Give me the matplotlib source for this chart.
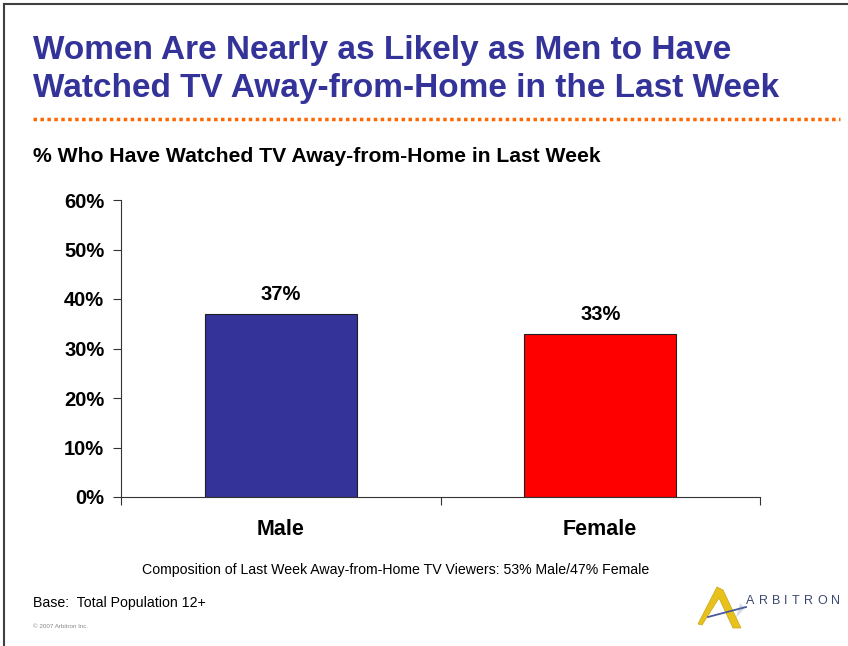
import matplotlib.pyplot as plt
from matplotlib.patches import Polygon
from matplotlib.lines import Line2D

plt.rcParams['font.family'] = ['Liberation Sans', 'DejaVu Sans']

# Data
categories = ['Male', 'Female']
values = [37, 33]
bar_colors = ['#333399', '#FF0000']
y_ticks = [0, 10, 20, 30, 40, 50, 60]

W, H = 848, 646
fig = plt.figure(figsize=(W / 100, H / 100), dpi=100)

def fx(px):
    return px / W

def fy(py):
    return 1 - py / H

# slide border (top and left)
fig.add_artist(Line2D([fx(4), fx(4)], [fy(4), 0], color='#404040', lw=1.5))
fig.add_artist(Line2D([fx(4), 1], [fy(4), fy(4)], color='#404040', lw=1.5))

# title
fig.text(fx(33), fy(51), 'Women Are Nearly as Likely as Men to Have',
         fontsize=24, fontweight='bold', color='#333399', va='center', ha='left')
fig.text(fx(33), fy(89), 'Watched TV Away-from-Home in the Last Week',
         fontsize=24, fontweight='bold', color='#333399', va='center', ha='left')
fig.add_artist(Line2D([fx(33), fx(840)], [fy(119), fy(119)], color='#FF6600',
                      lw=2.5, linestyle=(0, (1, 1))))

fig.text(fx(33), fy(157), '% Who Have Watched TV Away-from-Home in Last Week',
         fontsize=15.2, fontweight='bold', color='black', va='center', ha='left')

# chart area
ax = fig.add_axes([fx(121), fy(497), fx(760) - fx(121), fy(200) - fy(497)])
x = list(range(len(categories)))
ax.bar(x, values, width=0.475, color=bar_colors, edgecolor='#202020', linewidth=0.8)
for xi, v in zip(x, values):
    ax.text(xi, v + 2.0, f'{v}%', ha='center', va='bottom', fontsize=14.5, fontweight='bold')

ax.set_xlim(-0.5, 1.5)
ax.set_ylim(0, 60)
ax.set_yticks(y_ticks)
ax.set_yticklabels([f'{t}%' for t in y_ticks], fontsize=14.5, fontweight='bold')
ax.set_xticks([-0.5, 0.5, 1.5])
ax.set_xticklabels([])
ax.tick_params(axis='both', direction='out', length=6, width=0.8, color='#333333', pad=6)
for s in ['top', 'right']:
    ax.spines[s].set_visible(False)
for s in ['left', 'bottom']:
    ax.spines[s].set_color('#333333')
    ax.spines[s].set_linewidth(0.8)

for xi, c in zip(x, categories):
    ax.text(xi, -0.11, c, transform=ax.get_xaxis_transform(), ha='center', va='center',
            fontsize=15.5, fontweight='bold')

# footnotes
fig.text(fx(396), fy(570), 'Composition of Last Week Away-from-Home TV Viewers: 53% Male/47% Female',
         fontsize=10.2, ha='center', va='center')
fig.text(fx(33), fy(603), 'Base:  Total Population 12+', fontsize=10.2, ha='left', va='center')
fig.text(fx(33), fy(627), '\u00a9 2007 Arbitron Inc.', fontsize=4.5, color='#888888',
         ha='left', va='center')

# logo
fig.add_artist(Polygon([(fx(740), fy(603)), (fx(745), fy(608)), (fx(736), fy(618))],
                       closed=True, facecolor='#D8DCE8', edgecolor='none',
                       transform=fig.transFigure))
tri = [(fx(698), fy(624)), (fx(717), fy(587)), (fx(723), fy(590)),
       (fx(741), fy(628)), (fx(733), fy(628)), (fx(719), fy(598)), (fx(702), fy(625))]
fig.add_artist(Polygon(tri, closed=True, facecolor='#E8C21A', edgecolor='#C8A412',
                       lw=0.5, transform=fig.transFigure))
fig.add_artist(Line2D([fx(708), fx(746)], [fy(617), fy(607)], color='#4A5A9A', lw=1.3))

# spaced logo lettering
letters = 'ARBITRON'
adv = {'A': 0.667, 'R': 0.722, 'B': 0.667, 'I': 0.278, 'T': 0.611, 'O': 0.778, 'N': 0.722}
em = 12.5
gap = 4.2
xpos = 746
for ch in letters:
    fig.text(fx(xpos), fy(601), ch, fontsize=9, color='#3A4770', ha='left', va='center')
    xpos += adv[ch] * em + gap

fig.savefig('out.png', dpi=100)
